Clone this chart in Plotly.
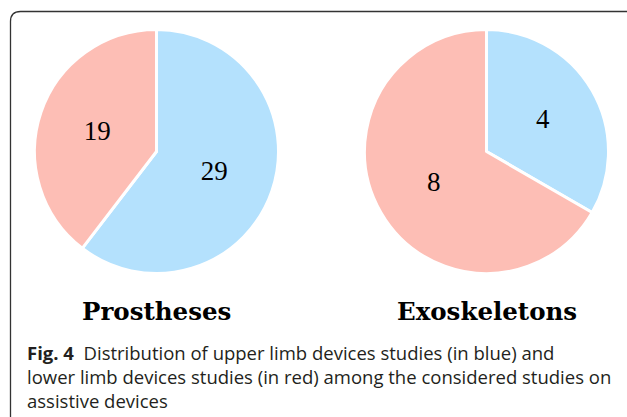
import plotly.graph_objects as go

W, H = 627, 417

groups = ["Prostheses", "Exoskeletons"]
slice_names = ["Upper limb", "Lower limb"]
prostheses_values = [29, 19]
exoskeleton_values = [4, 8]
slice_colors = ["#b4e1fd", "#fdbeb5"]
caption_bold = "Fig. 4"
caption_lines = [
    "Distribution of upper limb devices studies (in blue) and",
    "lower limb devices studies (in red) among the considered studies on",
    "assistive devices",
]

centers = [(156.5, 151.5), (486.5, 151.5)]
R = 122


def px_domain(cx, cy, r):
    return dict(x=[(cx - r) / W, (cx + r) / W], y=[1 - (cy + r) / H, 1 - (cy - r) / H])


fig = go.Figure()
for vals, (cx, cy) in zip([prostheses_values, exoskeleton_values], centers):
    fig.add_trace(go.Pie(
        labels=slice_names,
        values=vals,
        sort=False,
        direction="clockwise",
        rotation=0,
        domain=px_domain(cx, cy, R),
        marker=dict(colors=slice_colors, line=dict(color="white", width=3)),
        textinfo="value",
        textposition="inside",
        insidetextorientation="horizontal",
        textfont=dict(family="Liberation Serif", size=27, color="black"),
        hoverinfo="label+value",
        showlegend=False,
    ))

annotations = []
for name, (cx, cy) in zip(groups, centers):
    annotations.append(dict(
        x=cx / W, y=1 - 311 / H, xref="paper", yref="paper",
        text=name, showarrow=False, xanchor="center", yanchor="middle",
        font=dict(family="DejaVu Serif", size=24.5, color="black", weight="bold"),
    ))

caption = "<b>" + caption_bold + "</b>\u00a0\u00a0" + "<br>".join(caption_lines)
annotations.append(dict(
    x=25 / W, y=1 - 337.5 / H, xref="paper", yref="paper",
    text=caption, showarrow=False, xanchor="left", yanchor="top", align="left",
    font=dict(family="Open Sans", size=18.5, color="#231f20"),
))


def X(p):
    return p / W


def Y(p):
    return 1 - p / H


left, top, right, bottom, rad = 10.5, 11.5, 636, 440, 10
path = (f"M {X(left)},{Y(bottom)} L {X(left)},{Y(top + rad)} "
        f"Q {X(left)},{Y(top)} {X(left + rad)},{Y(top)} "
        f"L {X(right - rad)},{Y(top)} Q {X(right)},{Y(top)} {X(right)},{Y(top + rad)} "
        f"L {X(right)},{Y(bottom)}")

fig.update_layout(
    width=W, height=H,
    margin=dict(l=0, r=0, t=0, b=0),
    paper_bgcolor="white", plot_bgcolor="white",
    annotations=annotations,
    shapes=[dict(type="path", xref="paper", yref="paper", path=path,
                 line=dict(color="#333333", width=1.3))],
)

fig.write_html(
    "out.html",
    config={"displayModeBar": False},
    post_script="document.body.style.margin='0';document.body.style.overflow='hidden';",
)
